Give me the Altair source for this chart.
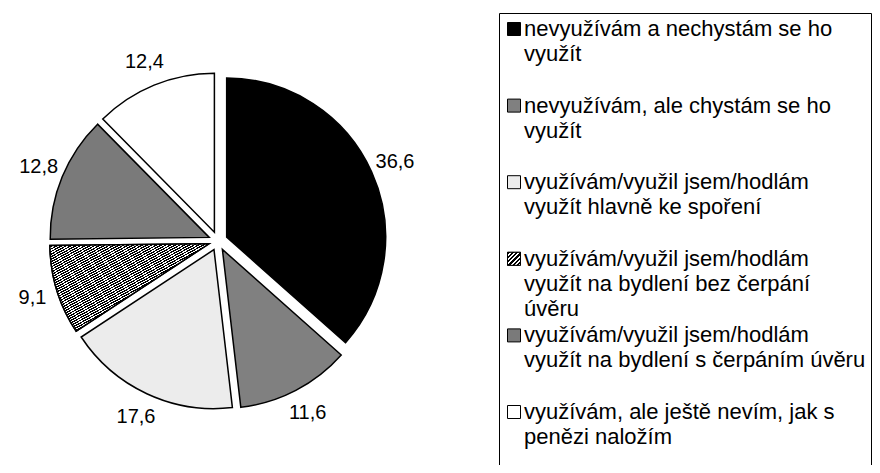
import altair as alt
import pandas as pd

categories = [
    "nevyužívám a nechystám se ho využít",
    "nevyužívám, ale chystám se ho využít",
    "využívám/využil jsem/hodlám využít hlavně ke spoření",
    "využívám/využil jsem/hodlám využít na bydlení bez čerpání úvěru",
    "využívám/využil jsem/hodlám využít na bydlení s čerpáním úvěru",
    "využívám, ale ještě nevím, jak s penězi naložím",
]
values = [36.6, 11.6, 17.6, 9.1, 12.8, 12.4]
legend_text = [
    "nevyužívám a nechystám se ho\nvyužít",
    "nevyužívám, ale chystám se ho\nvyužít",
    "využívám/využil jsem/hodlám\nvyužít hlavně ke spoření",
    "využívám/využil jsem/hodlám\nvyužít na bydlení bez čerpání\núvěru",
    "využívám/využil jsem/hodlám\nvyužít na bydlení s čerpáním úvěru",
    "využívám, ale ještě nevím, jak s\npenězi naložím",
]
fills = ["#000000", "#808080", "#ececec", "#6a6a6a", "#7a7a7a", "#ffffff"]
hatched = categories[3]

df = pd.DataFrame({"cat": categories, "value": values, "order": list(range(len(values))), "legend": legend_text})

W, H = 864, 457
CX, CY, R, EXPL, RLAB = 210, 233, 159, 9.5, 194
FONT = "Liberation Sans"


def stripes(n, frac=0.55, dark="#000000", light="#ffffff"):
    stops = []
    for i in range(n):
        a, b, c = i / n, (i + frac) / n, (i + 1) / n
        stops += [
            alt.GradientStop(offset=a, color=dark),
            alt.GradientStop(offset=b, color=dark),
            alt.GradientStop(offset=b, color=light),
            alt.GradientStop(offset=c, color=light),
        ]
    return alt.LinearGradient(gradient="linear", stops=stops, x1=0, y1=0, x2=1, y2=1)


color = alt.Color("cat:N", scale=alt.Scale(domain=categories, range=fills), legend=None)

pie_base = (
    alt.Chart(df)
    .transform_window(cum="sum(value)", sort=[alt.SortField("order")], frame=[None, 0])
    .transform_joinaggregate(total="sum(value)")
    .transform_calculate(
        a0="2*PI*(datum.cum-datum.value)/datum.total",
        a1="2*PI*datum.cum/datum.total",
    )
    .transform_calculate(mid="(datum.a0+datum.a1)/2")
    .transform_calculate(
        px=f"{CX}+{EXPL}*sin(datum.mid)",
        py=f"{CY}-{EXPL}*cos(datum.mid)",
        lx=f"{CX}+{RLAB}*sin(datum.mid)",
        ly=f"{CY}-{RLAB}*cos(datum.mid)",
        lab="replace(format(datum.value, '.1f'), '.', ',')",
    )
)

arc_enc = dict(
    x=alt.X("px:Q", scale=None, axis=None),
    y=alt.Y("py:Q", scale=None, axis=None),
    theta=alt.Theta("a0:Q", scale=None),
    theta2="a1:Q",
)

arcs = pie_base.mark_arc(outerRadius=R, stroke="black", strokeWidth=1.5).encode(fill=color, **arc_enc)

arcs_hatch = (
    pie_base.transform_filter(alt.datum.cat == hatched)
    .mark_arc(outerRadius=R, stroke="black", strokeWidth=1.5, fill=stripes(68))
    .encode(**arc_enc)
)

labels = pie_base.mark_text(font=FONT, fontSize=20, color="black", align="center", baseline="middle").encode(
    x=alt.X("lx:Q", scale=None, axis=None),
    y=alt.Y("ly:Q", scale=None, axis=None),
    text="lab:N",
)

ypos = alt.Y("cat:N", scale=alt.Scale(domain=categories, range=[28, 411], padding=0), axis=None, sort=categories)

squares = alt.Chart(df).mark_square(size=169, stroke="black", strokeWidth=1, opacity=1, yOffset=-7).encode(
    x=alt.value(506),
    y=ypos,
    fill=color,
)

square_hatch = (
    alt.Chart(df)
    .transform_filter(alt.datum.cat == hatched)
    .mark_square(size=169, stroke="black", strokeWidth=1, opacity=1, yOffset=-7, fill=stripes(6))
    .encode(x=alt.value(506), y=ypos)
)

leg_text = alt.Chart(df).mark_text(
    font=FONT, fontSize=22, align="left", baseline="alphabetic", lineBreak="\n", lineHeight=25, color="black"
).encode(
    x=alt.value(516),
    y=ypos,
    text="legend:N",
)

frame = alt.Chart(pd.DataFrame({"k": [0]})).mark_rect(fillOpacity=0, stroke="black", strokeWidth=1).encode(
    x=alt.value(491.5), x2=alt.value(863.5), y=alt.value(5.5), y2=alt.value(490)
)

chart = (
    alt.layer(arcs, arcs_hatch, labels, frame, squares, square_hatch, leg_text)
    .resolve_scale(x="independent", y="independent")
    .properties(width=W, height=H, autosize=alt.AutoSizeParams(type="none"), padding=0)
    .configure_view(stroke=None)
)

chart.save("out.html", embed_options={"renderer": "svg", "actions": False})
